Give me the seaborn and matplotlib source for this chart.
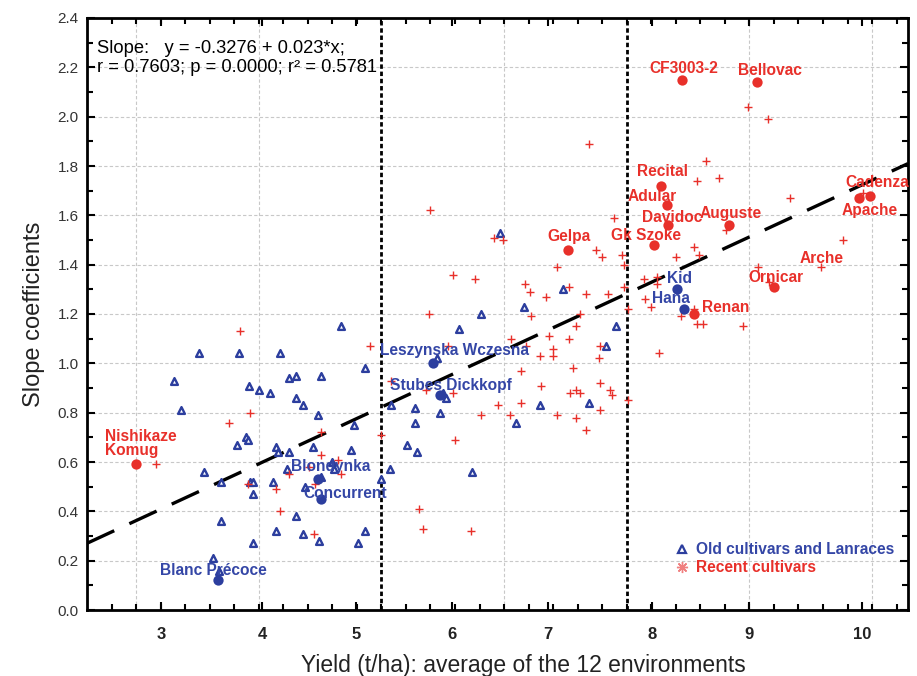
import numpy as np
import pandas as pd
import matplotlib
matplotlib.use("Agg")
import matplotlib.pyplot as plt
from matplotlib.lines import Line2D
import seaborn as sns

# ---------------- data ----------------
# Old cultivars and landraces (triangles)
old_x = [46.7, 35.1, 38.4, 41.7, 33.1, 48.7, 39.2, 40.0, 40.9, 42.5, 43.0, 45.1, 33.7, 43.0,
         43.6, 44.8, 47.8, 50.8, 39.0, 39.1, 38.2, 41.4, 41.6, 42.5, 44.4, 47.5, 52.1, 35.5,
         36.9, 39.3, 39.5, 41.2, 42.3, 45.1, 46.0, 46.1, 50.7, 50.0, 39.5, 43.8, 36.9, 43.0,
         41.4, 43.6, 44.9, 48.7, 48.1, 39.5, 36.3, 36.8, 59.7, 64.8, 61.6, 58.1, 56.3, 69.1,
         68.3, 55.0, 55.3, 52.7, 54.8, 52.7, 61.0, 62.9, 66.9, 52.9, 57.4, 54.5]
old_y = [1.15, 1.04, 1.04, 1.04, 0.93, 0.98, 0.91, 0.89, 0.88, 0.94, 0.95, 0.95, 0.81, 0.86,
         0.83, 0.79, 0.75, 0.83, 0.70, 0.69, 0.67, 0.66, 0.64, 0.64, 0.66, 0.65, 0.67, 0.56,
         0.52, 0.52, 0.52, 0.52, 0.57, 0.54, 0.60, 0.57, 0.57, 0.53, 0.47, 0.50, 0.36, 0.38,
         0.32, 0.31, 0.28, 0.32, 0.27, 0.27, 0.21, 0.16, 1.53, 1.30, 1.23, 1.20, 1.14, 1.15,
         1.07, 0.88, 0.86, 0.82, 0.80, 0.76, 0.76, 0.83, 0.84, 0.64, 0.56, 1.02]

# Recent cultivars (plus signs)
recent_x = [38.5, 49.1, 39.3, 37.6, 31.6, 45.1, 45.1, 46.5, 44.1, 42.5, 46.7, 39.1, 44.6, 41.4,
            41.7, 44.5, 50.0, 50.8, 54.0, 59.2, 59.9, 69.0, 67.5, 68.0, 69.6, 64.3, 55.8, 57.6,
            61.7, 62.1, 65.3, 63.4, 66.7, 68.5, 69.8, 71.4, 71.5, 53.9, 62.2, 66.2, 70.1, 65.9,
            60.6, 63.7, 65.3, 61.8, 55.4, 64.0, 67.8, 62.9, 64.0, 67.7, 61.4, 65.6, 63.0, 67.8,
            65.4, 65.9, 66.2, 68.6, 68.8, 53.6, 55.8, 70.1, 59.5, 61.4, 67.8, 58.1, 60.5, 64.3,
            65.9, 66.7, 56.0, 53.1, 53.4, 57.3, 79.9, 81.5, 66.9, 76.5, 75.7, 77.5, 83.3, 78.1,
            87.6, 69.8, 75.5, 75.9, 74.0, 80.7, 72.5, 72.5, 81.6, 72.0, 75.5, 74.4, 75.7, 76.2,
            79.5, 72.6, 89.3, 85.8]
recent_y = [1.13, 1.07, 0.80, 0.76, 0.59, 0.72, 0.63, 0.61, 0.58, 0.55, 0.55, 0.51, 0.51, 0.49,
            0.40, 0.31, 0.71, 0.93, 1.62, 1.51, 1.50, 1.59, 1.46, 1.43, 1.44, 1.39, 1.36, 1.34,
            1.32, 1.29, 1.31, 1.27, 1.28, 1.28, 1.31, 1.34, 1.26, 1.20, 1.19, 1.20, 1.22, 1.15,
            1.10, 1.11, 1.10, 1.07, 1.07, 1.06, 1.07, 1.03, 1.03, 1.02, 0.97, 0.98, 0.91, 0.92,
            0.88, 0.89, 0.88, 0.89, 0.87, 0.89, 0.88, 0.85, 0.83, 0.84, 0.81, 0.79, 0.79, 0.79,
            0.78, 0.73, 0.69, 0.41, 0.33, 0.32, 2.04, 1.99, 1.89, 1.82, 1.74, 1.75, 1.67, 1.54,
            1.50, 1.40, 1.47, 1.44, 1.43, 1.39, 1.35, 1.32, 1.33, 1.23, 1.22, 1.19, 1.16, 1.16,
            1.15, 1.04, 1.69, 1.39]

# Named cultivars (filled dots)
old_named = ["Leszynska Wczesna", "Stubes Dickkopf", "Blondynka", "Concurrent",
             "Blanc Précoce", "Kid", "Hana"]
old_named_x = [54.2, 54.8, 44.8, 45.1, 36.7, 74.1, 74.7]
old_named_y = [1.00, 0.87, 0.53, 0.45, 0.12, 1.30, 1.22]

recent_named = ["Nishikaze\nKomug", "Gelpa", "CF3003-2", "Bellovac", "Recital", "Adular",
                "Davidoc", "Gk Szoke", "Auguste", "Cadenza", "Apache", "Ornicar", "Renan"]
recent_named_x = [30.0, 65.2, 74.5, 80.6, 72.8, 73.3, 73.4, 72.2, 78.3, 89.8, 88.9, 82.0, 75.5]
recent_named_y = [0.59, 1.46, 2.15, 2.14, 1.72, 1.64, 1.56, 1.48, 1.56, 1.68, 1.67, 1.31, 1.20]

# label attached to a plain "+" point
label_only = ["Arche"]
label_only_x = [85.8]
label_only_y = [1.39]

# regression reported in the chart
intercept, slope = -0.3276, 0.023

# x tick labels (t/ha) and where they sit on the axis
xtick_labels = ["3", "4", "5", "6", "7", "8", "9", "10"]
xtick_pos = [32.04, 40.27, 47.93, 55.76, 63.59, 72.06, 79.97, 89.18]
xgrid = [30, 40, 60, 80, 90]
group_limits = [50, 70]

# label offsets (pixels) for names: (dx, dy) to left-centre of the text
offsets = {
    "Nishikaze\nKomug": (-31, 21), "Gelpa": (-20, 13), "CF3003-2": (-33, 11),
    "Bellovac": (-19, 12), "Recital": (-24, 14), "Adular": (-40, 9), "Davidoc": (-26, 8),
    "Gk Szoke": (-43, 9), "Auguste": (-29, 12), "Cadenza": (-24, 13), "Apache": (-17, -12),
    "Ornicar": (-26, 9), "Renan": (8, 6), "Arche": (-21, 9),
    "Leszynska Wczesna": (-53, 13), "Stubes Dickkopf": (-50, 10), "Blondynka": (-27, 13),
    "Concurrent": (-18, 6), "Blanc Précoce": (-58, 10), "Kid": (-10, 11), "Hana": (-32, 11),
}

BLUE = "#2c3e9e"
BLUE_T = "#3446a6"
RED = "#e8302a"

# ---------------- figure ----------------
sns.set_style("white")
plt.rcParams["font.family"] = ["Liberation Sans", "DejaVu Sans"]

fig = plt.figure(figsize=(9.17, 6.76), dpi=100)
ax = fig.add_axes([87 / 917, 66 / 676, 821 / 917, 592 / 676])

xmin, xmax = 26.0, 92.93
ax.set_xlim(xmin, xmax)
ax.set_ylim(0, 2.4)

# grid
for g in xgrid:
    ax.axvline(g, color="#c8c8c8", lw=0.8, ls=(0, (3, 2)), zorder=0)
for yv in np.arange(0.2, 2.4, 0.2):
    ax.axhline(yv, color="#c8c8c8", lw=0.8, ls=(0, (3, 2)), zorder=0)
for g in group_limits:
    ax.axvline(g, color="black", lw=2.0, ls=(0, (1.6, 1.0)), zorder=1)

old_df = pd.DataFrame({"x": old_x, "y": old_y})
rec_df = pd.DataFrame({"x": recent_x, "y": recent_y})
sns.scatterplot(data=old_df, x="x", y="y", ax=ax, marker="^", s=24,
                facecolor="white", edgecolor=BLUE, linewidth=1.7, zorder=3)
sns.scatterplot(data=rec_df, x="x", y="y", ax=ax, marker="+", s=30,
                color=RED, linewidth=1.0, zorder=3)

on_df = pd.DataFrame({"x": old_named_x, "y": old_named_y})
rn_df = pd.DataFrame({"x": recent_named_x, "y": recent_named_y})
sns.scatterplot(data=on_df, x="x", y="y", ax=ax, marker="o", s=55,
                color=BLUE, edgecolor=BLUE, linewidth=0, zorder=4)
sns.scatterplot(data=rn_df, x="x", y="y", ax=ax, marker="o", s=55,
                color=RED, edgecolor=RED, linewidth=0, zorder=4)

# regression line
line_df = pd.DataFrame({"x": [xmin, xmax],
                        "y": [intercept + slope * xmin, intercept + slope * xmax]})
sns.lineplot(data=line_df, x="x", y="y", ax=ax, color="black", lw=2.4, zorder=2)
ax.lines[-1].set_dashes((9, 5))

# labels
def put(names, xs, ys, col):
    for n, x, y in zip(names, xs, ys):
        dx, dy = offsets[n]
        ax.annotate(n, (x, y), xytext=(dx, dy), textcoords="offset pixels",
                    ha="left", va="center", color=col, fontsize=11.2,
                    fontweight="bold", linespacing=0.95, zorder=5)

put(recent_named, recent_named_x, recent_named_y, RED)
put(label_only, label_only_x, label_only_y, RED)
put(old_named, old_named_x, old_named_y, BLUE_T)

# statistics text
ax.text(0.012, 0.962, "Slope:   y = -0.3276 + 0.023*x;\nr = 0.7603; p = 0.0000; r² = 0.5781",
        transform=ax.transAxes, ha="left", va="top", fontsize=13.2,
        linespacing=1.15, color="black")

# axes / ticks
ax.set_xticks(xtick_pos)
ax.set_xticklabels(xtick_labels)
ax.set_xticks(np.arange(28, 93, 2), minor=True)
ax.set_yticks(np.arange(0, 2.41, 0.2))
ax.set_yticklabels([f"{v:.1f}" for v in np.arange(0, 2.41, 0.2)])
ax.set_yticks(np.arange(0.1, 2.4, 0.2), minor=True)
ax.tick_params(which="both", direction="in", top=True, right=True,
               bottom=True, left=True, width=1.5, color="black")
ax.tick_params(which="major", length=6)
ax.tick_params(which="minor", length=4)
ax.tick_params(axis="y", labelsize=11, labelcolor="#333333", pad=6)
ax.tick_params(axis="x", labelsize=12, pad=12)
for lab in ax.get_xticklabels():
    lab.set_fontweight("bold")
    lab.set_color("#222222")
for sp in ax.spines.values():
    sp.set_linewidth(2.0)
    sp.set_color("black")

ax.set_xlabel("Yield (t/ha): average of the 12 environments", fontsize=16.5,
              color="#222222")
ax.xaxis.set_label_coords(0.531, -0.074)
ax.set_ylabel("Slope coefficients", fontsize=17, labelpad=9, color="#222222")

# legend
handles = [Line2D([], [], ls="none", marker="^", ms=6, mfc="white", mec=BLUE, mew=1.6),
           Line2D([], [], ls="none", marker=(8, 2, 0), ms=8, color="#f08080", mew=1.0)]
leg = ax.legend(handles, ["Old cultivars and Lanraces", "Recent cultivars"],
                loc="lower left", bbox_to_anchor=(0.70, 0.035), frameon=False,
                handlelength=0.8, handletextpad=0.5, labelspacing=0.2,
                prop={"weight": "bold", "size": 11.2})
leg.get_texts()[0].set_color(BLUE_T)
leg.get_texts()[1].set_color(RED)

fig.savefig("out.png", dpi=100)
